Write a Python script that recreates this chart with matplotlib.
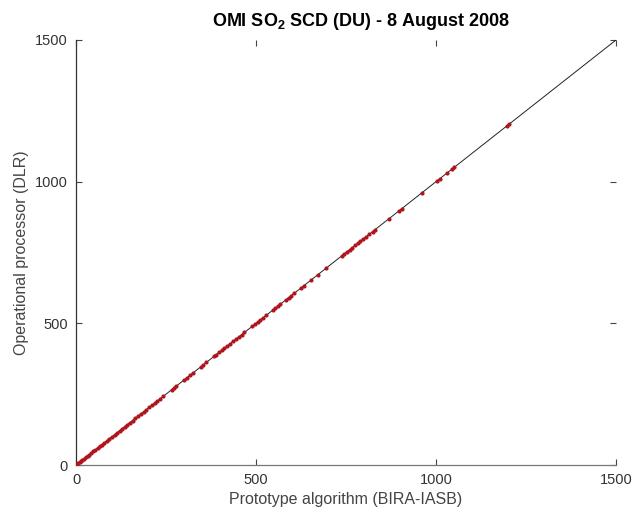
import numpy as np
import matplotlib.pyplot as plt

plt.rcParams['font.family'] = ['Liberation Sans', 'DejaVu Sans']
plt.rcParams['mathtext.fontset'] = 'custom'
plt.rcParams['mathtext.rm'] = 'Liberation Sans'
plt.rcParams['mathtext.bf'] = 'Liberation Sans:bold'

# 1:1 reference line
ref_x = [0, 1500]
ref_y = [0, 1500]

# SO2 slant columns (DU): prototype (BIRA-IASB) vs operational (DLR)
bira = [0, 3, 6, 10, 14, 18, 22, 27, 32, 37, 42, 48, 54, 60, 66, 72, 79, 86,
        93, 100, 107, 114, 121, 128, 135, 142, 150, 157, 165, 172, 180, 188,
        195, 203, 211, 219, 226, 234, 242, 266, 272, 279, 301, 308, 316, 324,
        347, 354, 362, 383, 390, 398, 405, 412, 420, 428, 436, 444, 452, 460,
        468, 490, 497, 505, 512, 520, 528, 546, 553, 561, 568, 584, 591, 598,
        606, 624, 632, 652, 672, 694, 738, 745, 752, 760, 767, 775, 783, 790,
        798, 806, 815, 824, 830, 870, 898, 905, 960, 1003, 1010, 1030, 1045,
        1050, 1197, 1203]
dlr = [0, 3, 6, 10, 14, 18, 22, 27, 32, 37, 42, 48, 54, 60, 66, 72, 79, 86,
       93, 100, 107, 114, 121, 128, 135, 142, 150, 157, 165, 172, 180, 188,
       195, 203, 211, 219, 226, 234, 242, 266, 272, 279, 301, 308, 316, 324,
       347, 354, 362, 383, 390, 398, 405, 412, 420, 428, 436, 444, 452, 460,
       468, 490, 497, 505, 512, 520, 528, 546, 553, 561, 568, 584, 591, 598,
       606, 624, 632, 652, 672, 694, 738, 745, 752, 760, 767, 775, 783, 790,
       798, 806, 815, 824, 830, 870, 898, 905, 960, 1003, 1010, 1030, 1045,
       1050, 1197, 1203]

ticks = [0, 500, 1000, 1500]

fig = plt.figure(figsize=(6.36, 5.16), dpi=100)
ax = fig.add_axes([0.1195, 0.0988, 0.8491, 0.8237])

ax.plot(ref_x, ref_y, '-', color='#222222', linewidth=0.7, zorder=2)
ax.plot(bira, dlr, 'o', color='#b0141c', markersize=3.0, markeredgewidth=0,
        zorder=3)

ax.set_xlim(0, 1500)
ax.set_ylim(0, 1500)
ax.set_xticks(ticks)
ax.set_yticks(ticks)
ax.tick_params(direction='in', top=True, right=True, length=4, width=0.8,
               color='#444444', labelsize=10.5, labelcolor='#333333', pad=6)

ax.spines['top'].set_visible(False)
ax.spines['right'].set_visible(False)
ax.spines['left'].set_color('#333333')
ax.spines['bottom'].set_color('#777777')
ax.spines['left'].set_linewidth(0.9)
ax.spines['bottom'].set_linewidth(0.9)

ax.set_xlabel('Prototype algorithm (BIRA-IASB)', fontsize=11.5, color='#444444', labelpad=3)
ax.set_ylabel('Operational processor (DLR)', fontsize=11.5, color='#444444', labelpad=4)
ax.set_title(r'OMI SO$_\mathbf{2}$ SCD (DU) - 8 August 2008', fontsize=13,
             fontweight='bold', pad=10, x=0.528)

fig.savefig('out.png', dpi=100)
